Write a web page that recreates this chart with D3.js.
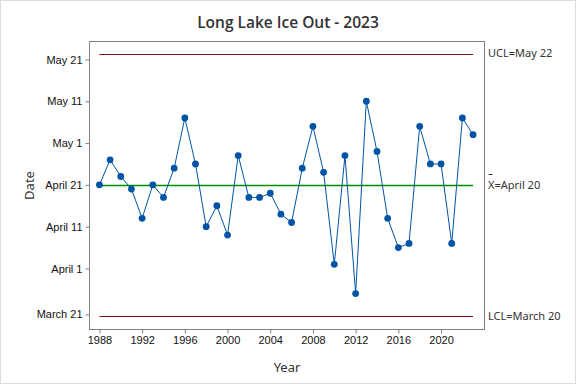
<!DOCTYPE html>
<html>
<head>
<meta charset="utf-8">
<script src="https://cdn.jsdelivr.net/npm/d3@7"></script>
<style>
  body { margin: 0; background: #fff; }
  svg { display: block; font-family: "Noto Sans", "Open Sans", sans-serif; }
</style>
</head>
<body>
<div id="chart"></div>
<script>
const width = 576;
const height = 384;

// ice-out day of year (2023 calendar), one per year
const years = d3.range(1988, 2024);
const iceOutDay = [111, 117, 113, 110, 103, 111, 108, 115, 127, 116,
                   101, 106, 99, 118, 108, 108, 109, 104, 102, 115,
                   125, 114, 92, 118, 85, 131, 119, 103, 96, 97,
                   125, 116, 116, 97, 127, 123];

// control limits (day of year)
const limitNames = ["UCL", "X", "LCL"];
const limitDays = [142.4, 110.9, 79.6];

const yTickDays = [80, 91, 101, 111, 121, 131, 141];
const xTickYears = [1988, 1992, 1996, 2000, 2004, 2008, 2012, 2016, 2020];

const plotLeft = 89.5, plotRight = 484.5, plotTop = 41.5, plotBottom = 329.5;

const dayToDate = d => new Date(2023, 0, Math.floor(d));
const fmtDate = d3.timeFormat("%B %-d");

const x = d3.scaleLinear().domain([1987.07, 2024.07]).range([plotLeft, plotRight]);
const y = d3.scaleLinear().domain([76.4, 145.3]).range([plotBottom, plotTop]);

const svg = d3.select("#chart")
    .append("svg")
    .attr("width", width)
    .attr("height", height);

svg.append("rect")
    .attr("x", 0.5).attr("y", 0.5)
    .attr("width", width - 1).attr("height", height - 1)
    .attr("fill", "#fff")
    .attr("stroke", "#dcdcdc");

// frame
svg.append("rect")
    .attr("x", plotLeft).attr("y", plotTop)
    .attr("width", plotRight - plotLeft).attr("height", plotBottom - plotTop)
    .attr("fill", "none")
    .attr("stroke", "#808080");

// axes
const xAxis = svg.append("g")
    .attr("transform", `translate(0,${plotBottom})`)
    .call(d3.axisBottom(x).tickValues(xTickYears).tickFormat(d3.format("d")).tickSize(4).tickPadding(3));

const yAxis = svg.append("g")
    .attr("transform", `translate(${plotLeft},0)`)
    .call(d3.axisLeft(y).tickValues(yTickDays).tickFormat(d => fmtDate(dayToDate(d))).tickSize(4).tickPadding(3));

[xAxis, yAxis].forEach(g => {
    g.select(".domain").remove();
    g.selectAll(".tick line").attr("stroke", "#808080");
    g.selectAll(".tick text")
        .attr("fill", "#111")
        .style("font-size", "11px");
});

// control lines
const lineColors = ["#7a1414", "#008c00", "#7a1414"];
svg.append("g")
    .selectAll("line")
    .data(limitDays)
    .enter()
    .append("line")
    .attr("x1", x(years[0]))
    .attr("x2", x(years[years.length - 1]))
    .attr("y1", d => Math.round(y(d)) + 0.5)
    .attr("y2", d => Math.round(y(d)) + 0.5)
    .attr("stroke", (d, i) => lineColors[i])
    .attr("stroke-width", (d, i) => i === 1 ? 1.4 : 1);

// limit labels
const labels = svg.append("g")
    .style("font-size", "11px")
    .attr("fill", "#333");

labels.selectAll("text")
    .data(limitDays)
    .enter()
    .append("text")
    .attr("x", plotRight + 3.5)
    .attr("y", d => y(d))
    .attr("dy", "0.35em")
    .text((d, i) => `${limitNames[i]}=${fmtDate(dayToDate(d))}`);

// bar over X
svg.append("line")
    .attr("x1", plotRight + 4)
    .attr("x2", plotRight + 8)
    .attr("y1", Math.round(y(limitDays[1])) - 10.5)
    .attr("y2", Math.round(y(limitDays[1])) - 10.5)
    .attr("stroke", "#333")
    .attr("stroke-width", 1);

// data line
const line = d3.line()
    .x((d, i) => x(years[i]))
    .y(d => y(d));

svg.append("path")
    .datum(iceOutDay)
    .attr("d", line)
    .attr("fill", "none")
    .attr("stroke", "#0054a6")
    .attr("stroke-width", 1);

svg.append("g")
    .selectAll("circle")
    .data(iceOutDay)
    .enter()
    .append("circle")
    .attr("cx", (d, i) => x(years[i]))
    .attr("cy", d => y(d))
    .attr("r", 3.4)
    .attr("fill", "#0054a6");

// titles
svg.append("text")
    .attr("x", 288)
    .attr("y", 28)
    .attr("text-anchor", "middle")
    .attr("fill", "#333")
    .style("font-family", "'Open Sans', sans-serif")
    .style("font-weight", 600)
    .style("font-size", "15.5px")
    .text("Long Lake Ice Out - 2023");

svg.append("text")
    .attr("x", 287)
    .attr("y", 372)
    .attr("text-anchor", "middle")
    .attr("fill", "#333")
    .style("font-size", "13px")
    .text("Year");

svg.append("text")
    .attr("transform", `translate(34,${(plotTop + plotBottom) / 2}) rotate(-90)`)
    .attr("text-anchor", "middle")
    .attr("fill", "#333")
    .style("font-size", "13px")
    .text("Date");
</script>
</body>
</html>
